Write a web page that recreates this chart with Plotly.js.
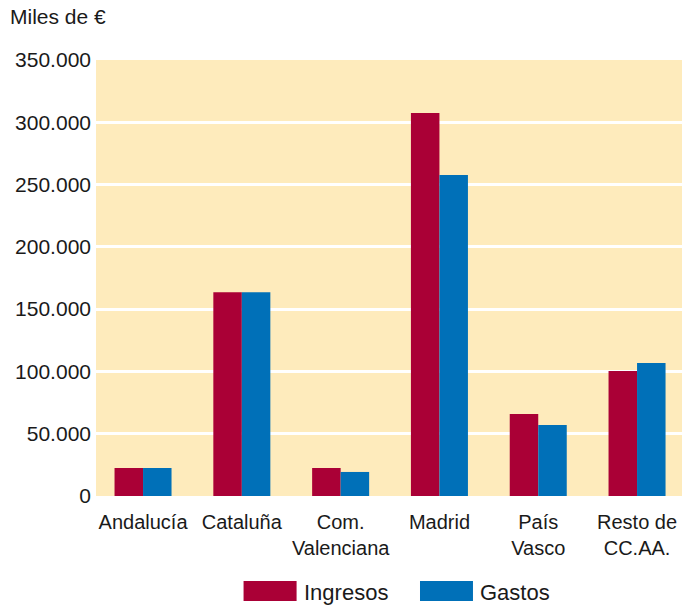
<!DOCTYPE html>
<html>
<head>
<meta charset="utf-8">
<script src="https://cdn.plot.ly/plotly-3.0.1.min.js"></script>
<style>html,body{margin:0;padding:0;background:#fff;}#chart{width:682px;height:605px;}</style>
</head>
<body>
<div id="chart"></div>
<script>
const categories = ["Andalucía", "Cataluña", "Com.<br>Valenciana", "Madrid", "País<br>Vasco", "Resto de<br>CC.AA."];
const ingresos = [22500, 163500, 22500, 307500, 65800, 100300];
const gastos = [22500, 163500, 19300, 257600, 57000, 106700];
const tickValues = [0, 50000, 100000, 150000, 200000, 250000, 300000, 350000];
const tickLabels = ["0", "50.000", "100.000", "150.000", "200.000", "250.000", "300.000", "350.000"];
const seriesNames = ["Ingresos", "Gastos"];
const colors = ["#AA0036", "#0070B8"];

const font = "Liberation Sans, Arial, sans-serif";

const data = [
  {type: "bar", name: seriesNames[0], x: categories, y: ingresos, marker: {color: colors[0]}, showlegend: false, hoverinfo: "y"},
  {type: "bar", name: seriesNames[1], x: categories, y: gastos, marker: {color: colors[1]}, showlegend: false, hoverinfo: "y"}
];

const shapes = [
  {type: "rect", xref: "paper", yref: "paper", x0: 0.2518, x1: 0.3423, y0: -0.2408, y1: -0.1950, fillcolor: colors[0], line: {width: 0}},
  {type: "rect", xref: "paper", yref: "paper", x0: 0.5529, x1: 0.6433, y0: -0.2408, y1: -0.1950, fillcolor: colors[1], line: {width: 0}}
];

const annotations = [
  {text: "Miles de €", xref: "paper", yref: "paper", x: -0.150, y: 1.100, xanchor: "left", yanchor: "middle", showarrow: false, font: {family: font, size: 21, color: "#1a1a1a"}},
  {text: seriesNames[0], xref: "paper", yref: "paper", x: 0.352, y: -0.222, xanchor: "left", yanchor: "middle", showarrow: false, font: {family: font, size: 22, color: "#1a1a1a"}},
  {text: seriesNames[1], xref: "paper", yref: "paper", x: 0.652, y: -0.222, xanchor: "left", yanchor: "middle", showarrow: false, font: {family: font, size: 22, color: "#1a1a1a"}}
];

const layout = {
  width: 682, height: 605,
  margin: {l: 96, r: 0, t: 60, b: 109, pad: 0},
  paper_bgcolor: "#ffffff",
  plot_bgcolor: "#FEEBBC",
  barmode: "group",
  bargap: 0.423,
  bargroupgap: 0,
  font: {family: font, size: 20, color: "#1a1a1a"},
  xaxis: {
    range: [-0.476, 5.455],
    showgrid: false, zeroline: false, showline: false, ticks: "",
    ticklabelstandoff: 12,
    tickfont: {family: font, size: 20, color: "#1a1a1a"}
  },
  yaxis: {
    range: [0, 350000], tickvals: tickValues, ticktext: tickLabels,
    showgrid: true, gridcolor: "#ffffff", gridwidth: 3,
    zeroline: false, showline: false, ticks: "",
    ticklabelstandoff: 4,
    tickfont: {family: font, size: 21, color: "#1a1a1a"}
  },
  shapes: shapes,
  annotations: annotations,
  showlegend: false
};

Plotly.newPlot("chart", data, layout, {displayModeBar: false, staticPlot: true});
</script>
</body>
</html>
